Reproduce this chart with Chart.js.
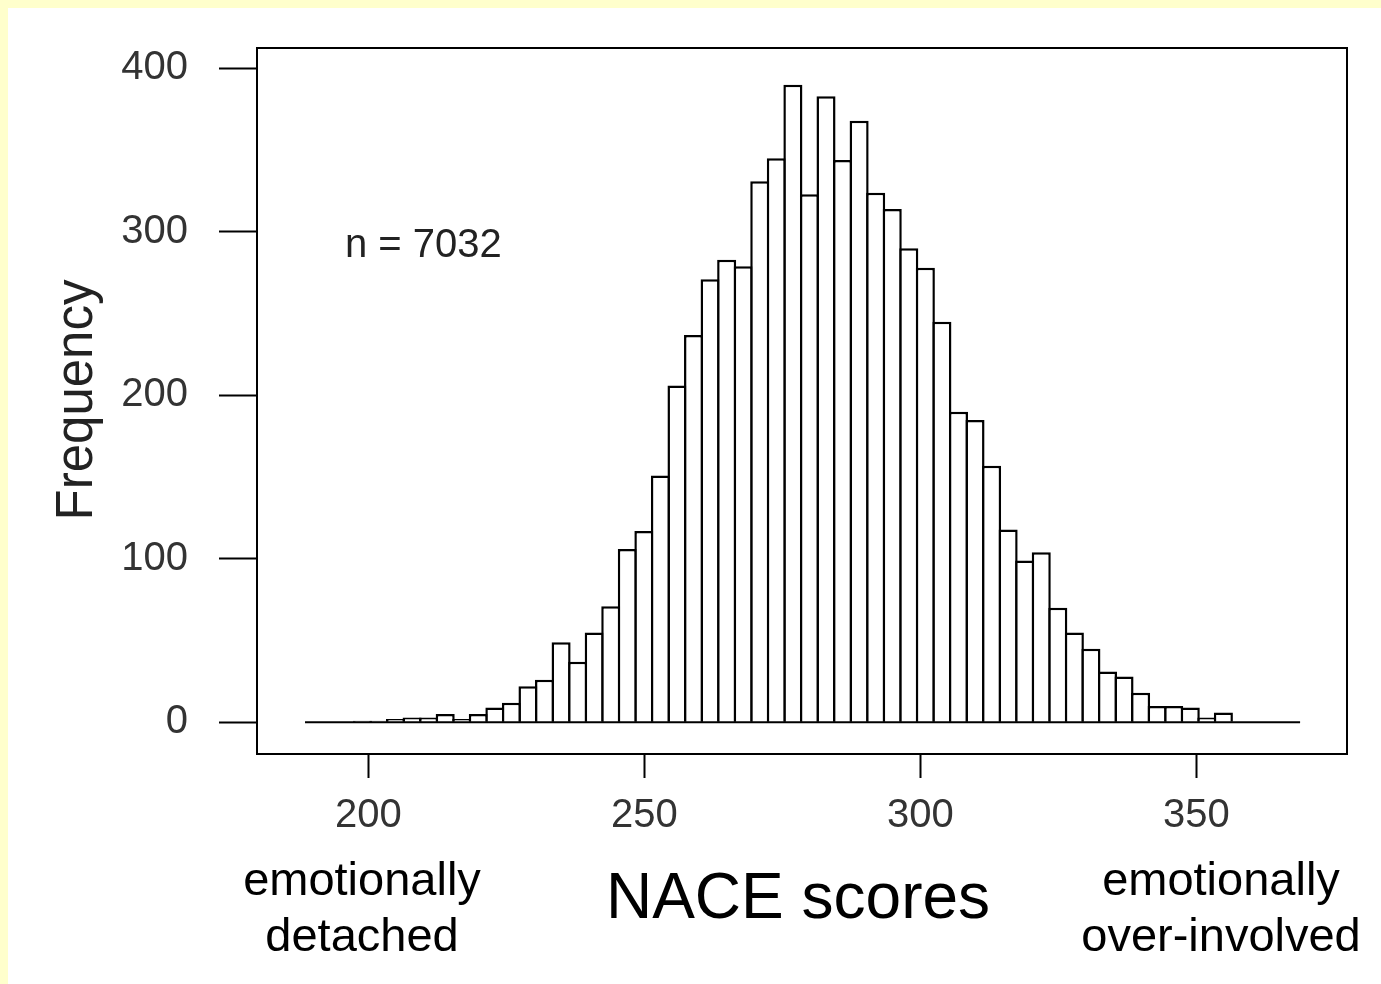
<!DOCTYPE html>
<html>
<head>
<meta charset="utf-8">
<title>NACE scores histogram</title>
<script src="https://cdn.jsdelivr.net/npm/chart.js@4.4.1/dist/chart.umd.min.js"></script>
<style>
  html, body { margin: 0; padding: 0; background: #ffffcc; }
  #wrap { position: absolute; left: 8px; top: 8px; width: 1373px; height: 976px; background: #fff; }
  canvas { display: block; }
</style>
</head>
<body>
<div id="wrap"><canvas id="naceChart" width="1373" height="976"></canvas></div>
<script>
// Histogram of NACE scores (53 bins, width 3)
const binStart = 197.4;
const binWidth = 3;
const counts = [
    1, 1, 2, 3, 3, 5, 2, 5, 9, 12,
    22, 26, 49, 37, 55, 71, 106, 117, 151, 206,
    237, 271, 283, 279, 331, 345, 390, 323, 383, 344,
    368, 324, 314, 290, 278, 245, 190, 185, 157, 118,
    99, 104, 70, 55, 45, 31, 28, 18, 10, 10,
    9, 3, 6
];
const xTicks = [200, 250, 300, 350];
const yTicks = [0, 100, 200, 300, 400];
const baselineRange = [188.5, 368.8];
const sampleNote = 'n = 7032';

const FONT = "'Liberation Sans', Arial, sans-serif";
Chart.defaults.font.family = FONT;

// bin midpoints -> bar positions on the linear x scale
const binMids = counts.map((_, i) => binStart + binWidth * (i + 0.5));
const histData = counts.map((c, i) => ({ x: binMids[i], y: c }));

// Frame + free text (R style box and annotations)
const annotations = {
    id: 'annotations',
    afterDraw(chart) {
        const ctx = chart.ctx;
        const a = chart.chartArea;
        ctx.save();
        ctx.strokeStyle = '#000';
        ctx.lineWidth = 2;
        ctx.strokeRect(a.left, a.top, a.right - a.left, a.bottom - a.top);

        ctx.fillStyle = '#222';
        ctx.textBaseline = 'alphabetic';

        ctx.font = '40px ' + FONT;
        ctx.textAlign = 'left';
        ctx.fillText(sampleNote, 337, 249);

        ctx.fillStyle = '#000';
        ctx.font = '64px ' + FONT;
        ctx.textAlign = 'center';
        ctx.fillText('NACE scores', 790, 910);

        ctx.font = '47px ' + FONT;
        ctx.fillText('emotionally', 354, 887);
        ctx.fillText('detached', 354, 943);
        ctx.fillText('emotionally', 1213, 887);
        ctx.fillText('over-involved', 1213, 943);

        // y axis title
        ctx.fillStyle = '#222';
        ctx.font = '51px ' + FONT;
        ctx.translate(84, 392);
        ctx.rotate(-Math.PI / 2);
        ctx.fillText('Frequency', 0, 0);
        ctx.restore();
    }
};

const binPx = binWidth * 5.52;
const barBorder = 2.5;

new Chart(document.getElementById('naceChart'), {
    type: 'bar',
    data: {
        datasets: [
            {
                type: 'line',
                data: baselineRange.map(x => ({ x: x, y: 0 })),
                borderColor: '#000',
                borderWidth: 2,
                pointRadius: 0,
                order: 0
            },
            {
                label: 'Frequency',
                data: histData,
                backgroundColor: '#fff',
                borderColor: '#000',
                borderWidth: barBorder,
                borderSkipped: 'start',
                barPercentage: (binPx + barBorder) / binPx,
                categoryPercentage: 1,
                order: 1
            }
        ]
    },
    options: {
        responsive: false,
        animation: false,
        devicePixelRatio: 1,
        layout: { padding: { top: 40, right: 34, left: 0, bottom: 0 } },
        plugins: {
            legend: { display: false },
            tooltip: { enabled: false },
            title: { display: false }
        },
        scales: {
            x: {
                type: 'linear',
                min: 179.8,
                max: 377.3,
                offset: false,
                afterBuildTicks: (scale) => { scale.ticks = xTicks.map(v => ({ value: v })); },
                afterFit: (scale) => {
                    scale.height = 230;
                    scale.paddingLeft = 0;
                    scale.paddingRight = 0;
                },
                grid: {
                    offset: false,
                    drawOnChartArea: false,
                    drawTicks: true,
                    tickLength: 24,
                    tickWidth: 2,
                    tickColor: '#000'
                },
                border: { display: true, color: '#000', width: 2 },
                ticks: {
                    font: { size: 40 },
                    color: '#333',
                    padding: 14,
                    maxRotation: 0
                }
            },
            y: {
                type: 'linear',
                min: -19.4,
                max: 412.5,
                afterBuildTicks: (scale) => { scale.ticks = yTicks.map(v => ({ value: v })); },
                afterFit: (scale) => {
                    scale.width = 249;
                    scale.paddingTop = 0;
                    scale.paddingBottom = 0;
                },
                grid: {
                    drawOnChartArea: false,
                    drawTicks: true,
                    tickLength: 38,
                    tickWidth: 2,
                    tickColor: '#000'
                },
                border: { display: true, color: '#000', width: 2 },
                ticks: {
                    font: { size: 40 },
                    color: '#333',
                    padding: 31
                }
            }
        }
    },
    plugins: [annotations]
});
</script>
</body>
</html>
